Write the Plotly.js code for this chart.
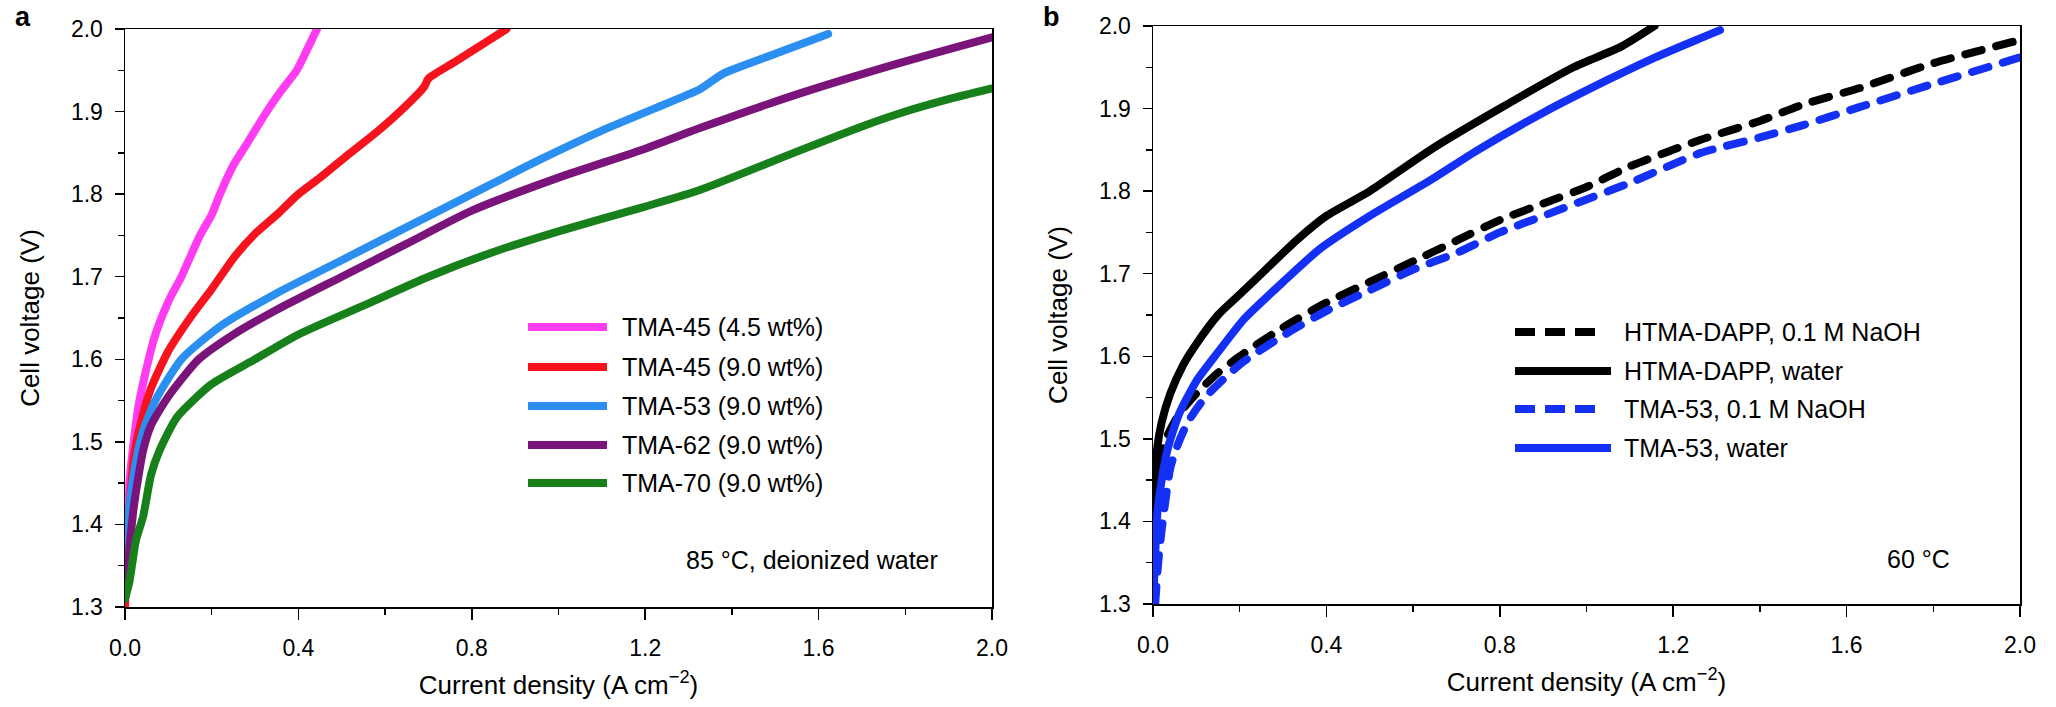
<!DOCTYPE html>
<html>
<head>
<meta charset="utf-8">
<script src="https://cdn.plot.ly/plotly-3.0.1.min.js"></script>
<style>
html,body{margin:0;padding:0;background:#fff;}
#chart{width:2056px;height:707px;}
.scatterlayer .js-line{stroke-linecap:round;stroke-linejoin:round;}
</style>
</head>
<body>
<div id="chart"></div>
<script>
// ---------- Panel a: 85 °C, deionized water ----------
const tma45_45_x = [0.0, 0.004, 0.01, 0.02, 0.03, 0.05, 0.07, 0.1, 0.13, 0.173, 0.2, 0.219, 0.25, 0.28, 0.327, 0.36, 0.396, 0.42, 0.443];
const tma45_45_y = [1.31, 1.38, 1.45, 1.50, 1.54, 1.59, 1.63, 1.67, 1.70, 1.75, 1.775, 1.80, 1.835, 1.86, 1.90, 1.925, 1.95, 1.975, 2.0];

const tma45_90_x = [0.0, 0.005, 0.012, 0.02, 0.035, 0.06, 0.1, 0.15, 0.2, 0.254, 0.3, 0.35, 0.40, 0.45, 0.52, 0.58, 0.634, 0.69, 0.70, 0.76, 0.82, 0.88];
const tma45_90_y = [1.30, 1.37, 1.43, 1.48, 1.52, 1.565, 1.61, 1.65, 1.685, 1.725, 1.752, 1.775, 1.80, 1.82, 1.85, 1.875, 1.90, 1.93, 1.94, 1.96, 1.98, 2.0];

const tma53_x = [0.0, 0.007, 0.02, 0.04, 0.07, 0.13, 0.22, 0.35, 0.5, 0.65, 0.8, 0.95, 1.1, 1.25, 1.326, 1.38, 1.5, 1.622];
const tma53_y = [1.33, 1.40, 1.46, 1.51, 1.55, 1.60, 1.64, 1.68, 1.72, 1.76, 1.80, 1.84, 1.877, 1.91, 1.927, 1.946, 1.97, 1.994];

const tma62_x = [0.0, 0.01, 0.02, 0.03, 0.042, 0.06, 0.1, 0.17, 0.25, 0.35, 0.5, 0.65, 0.8, 1.0, 1.2, 1.326, 1.557, 1.788, 2.0];
const tma62_y = [1.31, 1.37, 1.42, 1.455, 1.49, 1.52, 1.555, 1.60, 1.63, 1.66, 1.70, 1.74, 1.78, 1.82, 1.855, 1.88, 1.922, 1.959, 1.99];

const tma70_x = [0.0, 0.01, 0.025, 0.042, 0.06, 0.08, 0.12, 0.2, 0.3, 0.4, 0.55, 0.7, 0.85, 1.0, 1.2, 1.326, 1.557, 1.7, 1.788, 1.9, 2.0];
const tma70_y = [1.31, 1.33, 1.38, 1.41, 1.46, 1.49, 1.53, 1.57, 1.60, 1.63, 1.665, 1.70, 1.73, 1.755, 1.785, 1.805, 1.853, 1.882, 1.898, 1.915, 1.928];

const seriesA_names = ['TMA-45 (4.5 wt%)', 'TMA-45 (9.0 wt%)', 'TMA-53 (9.0 wt%)', 'TMA-62 (9.0 wt%)', 'TMA-70 (9.0 wt%)'];

// ---------- Panel b: 60 °C ----------
const htma_naoh_x = [0.005, 0.015, 0.03, 0.06, 0.1, 0.15, 0.2, 0.3, 0.4, 0.5, 0.6, 0.7, 0.8, 0.9, 1.0, 1.1, 1.262, 1.4, 1.5, 1.631, 1.8, 2.0];
const htma_naoh_y = [1.43, 1.47, 1.50, 1.53, 1.555, 1.58, 1.60, 1.635, 1.665, 1.69, 1.715, 1.74, 1.765, 1.785, 1.805, 1.83, 1.862, 1.885, 1.905, 1.925, 1.955, 1.983];

const htma_water_x = [0.0, 0.005, 0.01, 0.02, 0.04, 0.07, 0.1, 0.15, 0.2, 0.26, 0.33, 0.4, 0.5, 0.64, 0.8, 0.97, 1.08, 1.157];
const htma_water_y = [1.41, 1.45, 1.49, 1.52, 1.555, 1.59, 1.615, 1.65, 1.675, 1.705, 1.74, 1.77, 1.80, 1.85, 1.90, 1.95, 1.975, 2.0];

const tma53_naoh_x = [0.005, 0.012, 0.02, 0.03, 0.04, 0.055, 0.08, 0.12, 0.2, 0.3, 0.4, 0.5, 0.6, 0.7, 0.8, 0.9, 1.0, 1.1, 1.262, 1.4, 1.5, 1.631, 1.8, 2.0];
const tma53_naoh_y = [1.30, 1.35, 1.39, 1.43, 1.465, 1.49, 1.52, 1.55, 1.59, 1.625, 1.655, 1.68, 1.705, 1.725, 1.75, 1.77, 1.79, 1.81, 1.846, 1.865, 1.88, 1.902, 1.93, 1.962];

const tma53_water_x = [0.0, 0.005, 0.01, 0.02, 0.035, 0.06, 0.1, 0.15, 0.21, 0.3, 0.385, 0.5, 0.639, 0.75, 0.9, 1.05, 1.15, 1.262, 1.308];
const tma53_water_y = [1.30, 1.36, 1.41, 1.45, 1.49, 1.53, 1.57, 1.605, 1.645, 1.69, 1.73, 1.77, 1.813, 1.85, 1.895, 1.935, 1.96, 1.985, 1.995];

const seriesB_names = ['HTMA-DAPP, 0.1 M NaOH', 'HTMA-DAPP, water', 'TMA-53, 0.1 M NaOH', 'TMA-53, water'];

// ---------- Axis ticks ----------
const xTickVals = [0.0, 0.4, 0.8, 1.2, 1.6, 2.0];
const xTickText = ['0.0', '0.4', '0.8', '1.2', '1.6', '2.0'];
const yTickVals = [1.3, 1.4, 1.5, 1.6, 1.7, 1.8, 1.9, 2.0];
const yTickText = ['1.3', '1.4', '1.5', '1.6', '1.7', '1.8', '1.9', '2.0'];

// ---------- Styling ----------
const W = 2056, H = 707;
const FONT = 'Liberation Sans, Arial, Helvetica, sans-serif';
const px = v => v / W;
const py = v => 1 - v / H;
const colorsA = ['#ff3cf2', '#f5141e', '#2b8ff2', '#7a147a', '#17801a'];
const colorsB = ['#000000', '#000000', '#1430f5', '#1430f5'];
const dashB = ['17px,15px', 'solid', '17px,15px', 'solid'];
const LW = 8;

const dataA = [
  [tma45_45_x, tma45_45_y], [tma45_90_x, tma45_90_y], [tma53_x, tma53_y],
  [tma62_x, tma62_y], [tma70_x, tma70_y]
];
const dataB = [
  [htma_naoh_x, htma_naoh_y], [htma_water_x, htma_water_y],
  [tma53_naoh_x, tma53_naoh_y], [tma53_water_x, tma53_water_y]
];

const traces = [];
dataA.forEach((d, i) => {
  traces.push({x: d[0], y: d[1], type: 'scatter', mode: 'lines', name: seriesA_names[i],
    xaxis: 'x', yaxis: 'y', showlegend: false,
    line: {color: colorsA[i], width: LW, shape: 'spline', smoothing: 0.6}});
});
dataB.forEach((d, i) => {
  traces.push({x: d[0], y: d[1], type: 'scatter', mode: 'lines', name: seriesB_names[i],
    xaxis: 'x2', yaxis: 'y2', showlegend: false,
    line: {color: colorsB[i], width: LW, dash: dashB[i], shape: 'spline', smoothing: 0.6}});
});

function xAxis(domain, anchor) {
  return {
    domain: domain, anchor: anchor, range: [0, 2.0], fixedrange: true,
    showline: true, linecolor: '#000', linewidth: 1.5, mirror: true,
    ticks: 'outside', ticklen: 11, tickwidth: 1.5, tickcolor: '#000',
    tickvals: xTickVals, ticktext: xTickText, ticklabelstandoff: 9,
    minor: {tickvals: [0.2, 0.6, 1.0, 1.4, 1.8], ticks: 'outside', ticklen: 6, tickwidth: 1.5, tickcolor: '#000', showgrid: false},
    showgrid: false, zeroline: false,
    tickfont: {family: FONT, size: 23, color: '#000'},
    title: {text: 'Current density (A cm<sup>−2</sup>)', font: {family: FONT, size: 26, color: '#000'}, standoff: 15}
  };
}
function yAxis(domain, anchor) {
  return {
    domain: domain, anchor: anchor, range: [1.3, 2.0], fixedrange: true,
    showline: true, linecolor: '#000', linewidth: 1.5, mirror: true,
    ticks: 'outside', ticklen: 9, tickwidth: 1.5, tickcolor: '#000',
    tickvals: yTickVals, ticktext: yTickText, ticklabelstandoff: 7,
    minor: {tickvals: [1.35, 1.45, 1.55, 1.65, 1.75, 1.85, 1.95], ticks: 'outside', ticklen: 6, tickwidth: 1.5, tickcolor: '#000', showgrid: false},
    showgrid: false, zeroline: false,
    tickfont: {family: FONT, size: 23, color: '#000'},
    title: {text: 'Cell voltage (V)', font: {family: FONT, size: 26, color: '#000'}, standoff: 24}
  };
}

const shapes = [];
const annotations = [];

// Legend panel a
const legA_rows = [327, 367, 406, 445, 483];
seriesA_names.forEach((n, i) => {
  shapes.push({type: 'line', xref: 'paper', yref: 'paper',
    x0: px(528), x1: px(607), y0: py(legA_rows[i]), y1: py(legA_rows[i]),
    line: {color: colorsA[i], width: LW}});
  annotations.push({xref: 'paper', yref: 'paper', x: px(620), y: py(legA_rows[i]),
    xanchor: 'left', yanchor: 'middle', showarrow: false, text: n,
    font: {family: FONT, size: 25, color: '#000'}});
});
// Legend panel b
const legB_rows = [332, 371, 409, 448];
seriesB_names.forEach((n, i) => {
  shapes.push({type: 'line', xref: 'paper', yref: 'paper',
    x0: px(1515), x1: px(dashB[i] === 'solid' ? 1611 : 1598), y0: py(legB_rows[i]), y1: py(legB_rows[i]),
    line: {color: colorsB[i], width: LW, dash: dashB[i] === 'solid' ? 'solid' : '20px,10px'}});
  annotations.push({xref: 'paper', yref: 'paper', x: px(1622), y: py(legB_rows[i]),
    xanchor: 'left', yanchor: 'middle', showarrow: false, text: n,
    font: {family: FONT, size: 25, color: '#000'}});
});

// Condition notes
annotations.push({xref: 'paper', yref: 'paper', x: px(940), y: py(560), xanchor: 'right', yanchor: 'middle',
  showarrow: false, text: '85 °C, deionized water', font: {family: FONT, size: 25, color: '#000'}});
annotations.push({xref: 'paper', yref: 'paper', x: px(1952), y: py(559), xanchor: 'right', yanchor: 'middle',
  showarrow: false, text: '60 °C', font: {family: FONT, size: 25, color: '#000'}});
// Panel letters
annotations.push({xref: 'paper', yref: 'paper', x: px(13), y: py(17), xanchor: 'left', yanchor: 'middle',
  showarrow: false, text: '<b>a</b>', font: {family: FONT, size: 27, color: '#000'}});
annotations.push({xref: 'paper', yref: 'paper', x: px(1041), y: py(17), xanchor: 'left', yanchor: 'middle',
  showarrow: false, text: '<b>b</b>', font: {family: FONT, size: 27, color: '#000'}});

const layout = {
  width: W, height: H,
  margin: {l: 0, r: 0, t: 0, b: 0, pad: 0},
  paper_bgcolor: '#fff', plot_bgcolor: '#fff',
  showlegend: false,
  xaxis: xAxis([px(125), px(992)], 'y'),
  yaxis: yAxis([py(607), py(29)], 'x'),
  xaxis2: xAxis([px(1153), px(2020)], 'y2'),
  yaxis2: yAxis([py(604), py(26)], 'x2'),
  shapes: shapes,
  annotations: annotations
};

Plotly.newPlot('chart', traces, layout, {displayModeBar: false, staticPlot: true});
</script>
</body>
</html>
